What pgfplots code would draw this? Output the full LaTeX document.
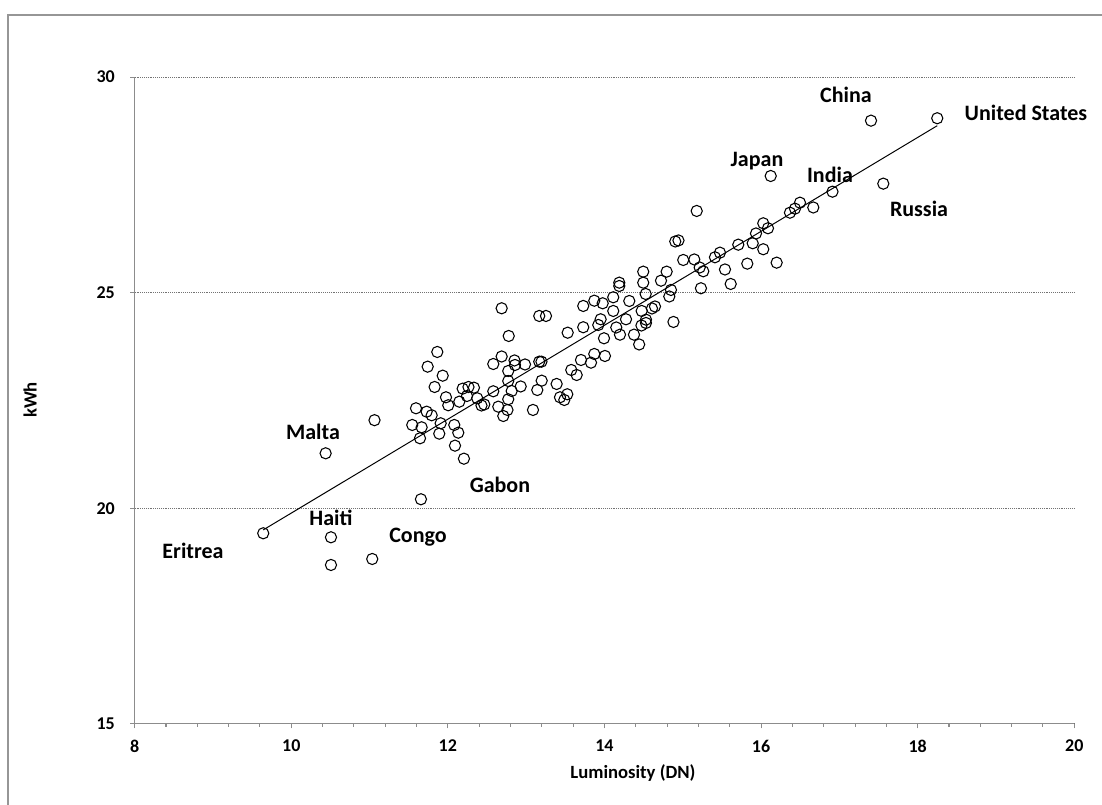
\documentclass[border=0pt]{standalone}
\usepackage{pgfplots}
\pgfplotsset{compat=1.18}
\usepackage{fontspec}
\setmainfont{Carlito}
\definecolor{axgray}{RGB}{140,140,140}
\definecolor{framegray}{RGB}{150,150,150}
\begin{document}
\begin{tikzpicture}[x=1pt,y=1pt]
\useasboundingbox (0,0) rectangle (826.5,603);
\draw[line width=1.1pt, framegray] (6,-5) -- (6,591.75) -- (835,591.75);
\begin{axis}[
  at={(101pt,60.1pt)}, anchor=south west,
  scale only axis, width=704.7pt, height=485.1pt,
  xmin=8, xmax=20, ymin=15, ymax=30,
  axis x line=bottom, axis y line=left,
  axis line style={-, draw=axgray, line width=0.9pt},
  xtick={8,10,...,20}, ytick={15,20,25,30},
  minor x tick num=4,
  tick align=outside,
  major tick length=3.4pt, minor tick length=2.2pt,
  tick style={draw=axgray, line width=0.8pt},
  ymajorgrids=true,
  major grid style={dash pattern=on 0.7pt off 0.7pt, draw=black!55, line width=0.6pt},
  /pgf/number format/assume math mode=true,
  ticklabel style={font=\bfseries\fontsize{13.5}{16}\selectfont},
  yticklabel style={xshift=-8pt},
  xticklabel style={yshift=-5pt},
  xlabel={Luminosity (DN)}, ylabel={kWh},
  label style={font=\bfseries\fontsize{14}{16}\selectfont},
  xlabel style={at={(axis description cs:0.5303,0)}, anchor=center, yshift=-37pt},
  ylabel style={at={(axis description cs:-0.1114,0.5008)}, anchor=center},
  clip=false,
]
\addplot[only marks, mark=o, mark size=4.2pt, mark options={draw=black, line width=0.8pt}] coordinates {
(9.642,19.420) (10.439,21.275) (11.063,22.043) (10.507,19.327) (10.507,18.685)
(11.034,18.824) (11.656,20.209)
(11.865,23.625) (11.742,23.284) (11.934,23.075) (11.831,22.813) (11.976,22.574)
(12.005,22.389) (12.189,22.774) (12.263,22.813) (12.333,22.797) (12.244,22.604)
(12.146,22.472) (12.375,22.551) (12.429,22.384) (12.465,22.407)
(11.593,22.319) (11.729,22.240) (11.793,22.157) (11.545,21.932) (11.665,21.878)
(11.908,21.971) (11.890,21.730) (11.644,21.623) (12.082,21.932) (12.133,21.753)
(12.091,21.452) (12.205,21.150)
(12.580,23.346) (12.687,23.520) (12.851,23.428) (12.857,23.323) (12.985,23.335)
(12.771,23.184) (12.771,22.952) (12.580,22.713) (12.815,22.720) (12.930,22.825)
(12.771,22.528) (12.644,22.356) (12.761,22.280) (12.708,22.140) (13.087,22.280)
(12.687,24.638) (12.777,23.996) (13.167,24.460) (13.253,24.460)
(13.530,24.072) (13.729,24.692) (13.870,24.814) (13.977,24.754) (14.112,24.893)
(14.112,24.576) (13.729,24.198) (13.951,24.383) (13.921,24.251) (13.994,23.942)
(13.700,23.439) (13.870,23.578) (13.828,23.377) (14.006,23.532) (13.576,23.207)
(13.645,23.091) (13.167,23.400) (13.195,23.400) (13.198,22.959) (13.142,22.743)
(13.389,22.883) (13.525,22.644) (13.432,22.574) (13.487,22.512)
(14.189,25.232) (14.189,25.155) (14.317,24.807) (14.526,24.970) (14.495,25.487)
(14.495,25.232) (14.794,25.487) (14.722,25.278) (14.849,25.063) (14.828,24.912)
(14.475,24.576) (14.607,24.634) (14.645,24.680) (14.275,24.383) (14.530,24.374)
(14.530,24.297) (14.472,24.239) (14.151,24.193) (14.198,24.026) (14.377,24.026)
(14.443,23.799) (14.881,24.321)
(14.904,26.187) (14.945,26.211) (15.178,26.895) (15.006,25.758) (15.147,25.770)
(15.216,25.584) (15.262,25.496) (15.411,25.821) (15.475,25.928) (15.539,25.538)
(15.612,25.202) (15.232,25.102) (15.709,26.113) (15.893,26.146) (15.935,26.373)
(15.824,25.673) (16.028,26.609) (16.088,26.494) (16.028,26.007) (16.199,25.696)
(16.123,27.706) (16.369,26.855) (16.433,26.948) (16.497,27.087) (16.667,26.976)
(16.912,27.342) (17.404,28.989) (17.561,27.528) (18.250,29.045)
};
\addplot[black, line width=0.75pt] coordinates {(9.642,19.498) (18.250,28.872)};
\tikzset{lab/.style={font=\bfseries\fontsize{16.5}{18}\selectfont, anchor=center}}
\node[lab] at (axis cs:17.084,29.585) {China};
\node[lab] at (axis cs:19.383,29.167) {United States};
\node[lab] at (axis cs:15.948,28.054) {Japan};
\node[lab] at (axis cs:16.880,27.730) {India};
\node[lab] at (axis cs:18.017,26.953) {Russia};
\node[lab] at (axis cs:10.277,21.770) {Malta};
\node[lab] at (axis cs:12.665,20.540) {Gabon};
\node[lab] at (axis cs:10.507,19.775) {Haiti};
\node[lab] at (axis cs:11.618,19.334) {Congo};
\node[lab] at (axis cs:8.745,19.010) {Eritrea};
\end{axis}
\end{tikzpicture}
\end{document}
